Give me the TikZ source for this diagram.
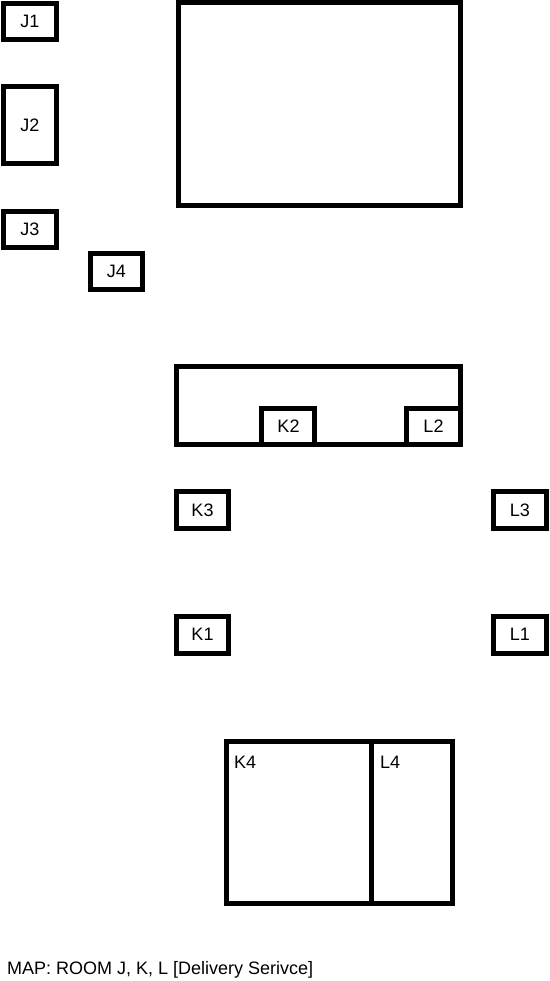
\documentclass[tikz,border=0pt]{standalone}
\usepackage{fontspec}
\setmainfont{Liberation Sans}
\begin{document}
\begin{tikzpicture}[x=1pt,y=-1pt,
  wall/.style={draw=black,line width=5pt,line join=miter},
  room/.style={wall,rectangle,inner sep=0pt,font=\fontsize{18}{21}\selectfont},
  lbl/.style={inner sep=0pt,font=\fontsize{18}{21}\selectfont}]
\useasboundingbox[fill=white] (0,0) rectangle (549,981);
% J rooms
\node[room,minimum width=53pt,minimum height=36pt] (j1) at (30,21.5) {J1};
\node[room,minimum width=53pt,minimum height=77pt] (j2) at (30,125) {J2};
\node[room,minimum width=53pt,minimum height=36pt] (j3) at (30,229.5) {J3};
\node[room,minimum width=52pt,minimum height=36pt] (j4) at (116.5,271.5) {J4};
% big hall
\node[room,minimum width=282pt,minimum height=203pt] (hall) at (319,104.5) {};
% K/L strip
\node[room,minimum width=284pt,minimum height=78pt] (strip) at (318,405.5) {};
\coordinate (k2bl) at (261.5,444.5);
\coordinate (k2tr) at (314,408);
\draw[wall] (k2bl) |- (k2tr) -- (k2tr |- k2bl);
\node[lbl] (k2) at (288.5,426) {K2};
\coordinate (l2tr) at (460,408);
\coordinate (l2bl) at (406.5,444.5);
\draw[wall] (l2tr) -| (l2bl);
\node[lbl] (l2) at (433.5,426) {L2};
% K3 L3 K1 L1
\node[room,minimum width=52.5pt,minimum height=36.5pt] (k3) at (202.5,509.8) {K3};
\node[room,minimum width=53.5pt,minimum height=36.5pt] (l3) at (519.8,509.8) {L3};
\node[room,minimum width=52.5pt,minimum height=36.5pt] (k1) at (202.5,634.8) {K1};
\node[room,minimum width=53.5pt,minimum height=36.5pt] (l1) at (519.8,634.8) {L1};
% K4 L4
\node[room,minimum width=226pt,minimum height=161.5pt] (kl4) at (339,822.3) {};
\draw[wall] (371.7,741.5) coordinate (divtop) -- (371.7,903) coordinate (divbot);
\node[lbl,anchor=west] (k4) at (234,762) {K4};
\node[lbl,anchor=west] (l4) at (380,762) {L4};
% caption
\node[lbl,anchor=west] (cap) at (7,970) {MAP: ROOM J, K, L [Delivery Serivce]};
\end{tikzpicture}
\end{document}
